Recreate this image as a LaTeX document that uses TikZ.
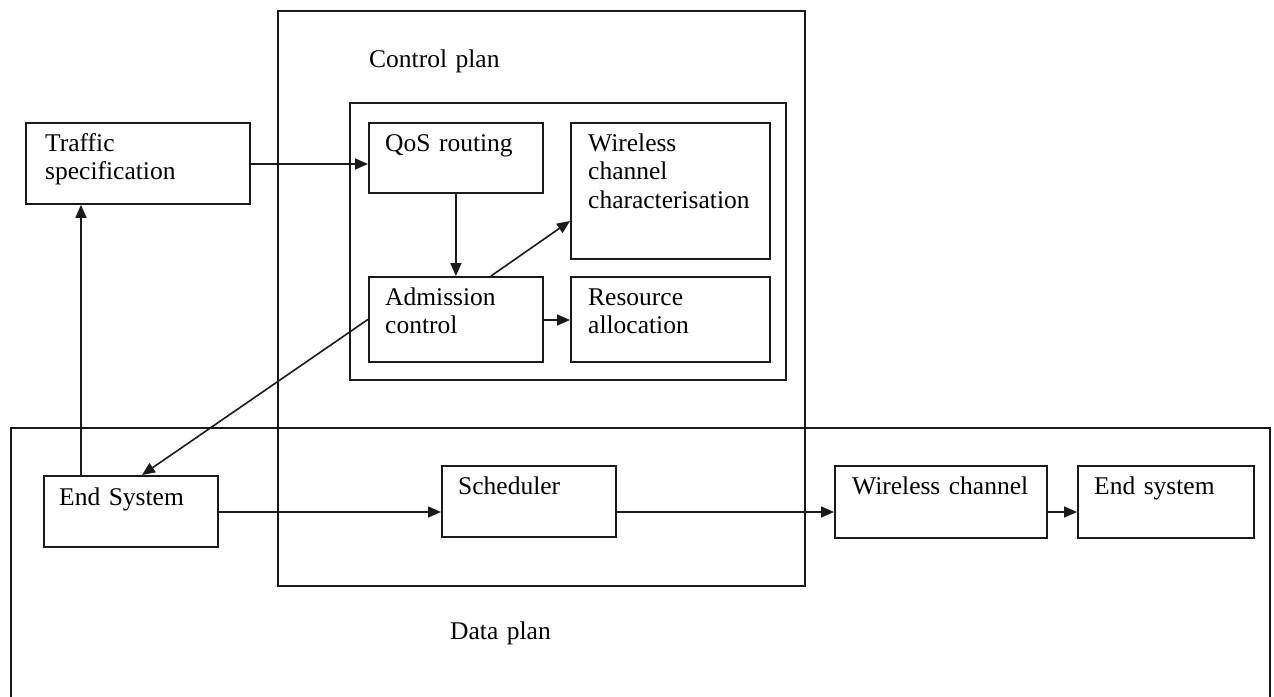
\documentclass[tikz,border=0pt]{standalone}
\usepackage{fontspec}
\setmainfont{Liberation Serif}
\usetikzlibrary{arrows.meta,calc}

\definecolor{ink}{HTML}{1A1A1A}

\tikzset{
  frame/.style={draw=ink, line width=1.8pt, rectangle, inner sep=0pt, anchor=north west},
  lbl/.style={anchor=base west, inner sep=0pt, text width=230pt, align=left,
              font=\fontsize{25.5}{28.5}\selectfont},
  arr/.style={draw=ink, line width=1.6pt, -{Triangle[length=13pt,width=11pt]}},
}

\begin{document}
\begin{tikzpicture}[x=1pt,y=-1pt]
  \path[use as bounding box, clip] (0,0) rectangle (1274,696);

  % planes
  \node[frame, minimum width=1259pt, minimum height=300pt] (data) at (10,427) {};
  \node[frame, minimum width=527pt, minimum height=575pt] (control) at (277,10) {};
  \node[frame, minimum width=436pt, minimum height=277pt] (inner) at (349,102) {};

  % control plane blocks
  \node[frame, minimum width=174pt, minimum height=70pt]  (qos) at (368,122) {};
  \node[frame, minimum width=199pt, minimum height=136pt] (wcc) at (570,122) {};
  \node[frame, minimum width=174pt, minimum height=85pt]  (adm) at (368,276) {};
  \node[frame, minimum width=199pt, minimum height=85pt]  (res) at (570,276) {};
  \node[frame, minimum width=224pt, minimum height=81pt]  (traffic) at (25,122) {};

  % data plane blocks
  \node[frame, minimum width=174pt, minimum height=71pt] (endsys) at (43,475) {};
  \node[frame, minimum width=174pt, minimum height=71pt] (sched) at (441,465) {};
  \node[frame, minimum width=212pt, minimum height=72pt] (wch) at (834,465) {};
  \node[frame, minimum width=176pt, minimum height=72pt] (endsys2) at (1077,465) {};

  % texts
  \node[lbl] (controlT) at (369,67) {Control plan};
  \node[lbl] (dataT) at (450,639) {Data plan};
  \node[lbl] (qosT) at ($(qos.north west)+(17,29)$) {QoS routing};
  \node[lbl] (wccT) at ($(wcc.north west)+(18,29)$) {Wireless\\channel\\characterisation};
  \node[lbl] (admT) at ($(adm.north west)+(17,29)$) {Admission\\control};
  \node[lbl] (resT) at ($(res.north west)+(18,29)$) {Resource\\allocation};
  \node[lbl] (trafficT) at ($(traffic.north west)+(20,29)$) {Traffic\\specification};
  \node[lbl] (endsysT) at ($(endsys.north west)+(16,30)$) {End System};
  \node[lbl] (schedT) at ($(sched.north west)+(17,29)$) {Scheduler};
  \node[lbl] (wchT) at ($(wch.north west)+(18,29)$) {Wireless channel};
  \node[lbl] (endsys2T) at ($(endsys2.north west)+(17,29)$) {End system};

  % helper points on block edges
  \coordinate (trafficOut) at ($(traffic.north east)+(0,42)$);
  \coordinate (admTop) at ($(adm.north west)+(123,0)$);
  \coordinate (admOut) at ($(adm.north east)+(0,44)$);
  \coordinate (wccIn) at ($(wcc.north west)+(0,99)$);
  \coordinate (endsysTop) at ($(endsys.north west)+(99,0)$);
  \coordinate (endsysUp) at ($(endsys.north west)+(38,0)$);
  \coordinate (endsysOut) at ($(endsys.north east)+(0,37)$);
  \coordinate (schedOut) at ($(sched.north east)+(0,47)$);
  \coordinate (wchIn) at ($(wch.north west)+(0,47)$);
  \coordinate (wchOut) at ($(wch.north east)+(0,47)$);
  \coordinate (endsys2In) at ($(endsys2.north west)+(0,47)$);

  % connectors
  \draw[arr] (trafficOut) -- (trafficOut -| qos.west);
  \draw[arr] (qos.south) -- (adm.north);
  \draw[arr] (admTop) -- (wccIn);
  \draw[arr] (admOut) -- (admOut -| res.west);
  \draw[arr] (adm.west) -- (endsysTop);
  \draw[arr] (endsysUp) -- (endsysUp |- traffic.south);
  \draw[arr] (endsysOut) -- (endsysOut -| sched.west);
  \draw[arr] (schedOut) -- (wchIn);
  \draw[arr] (wchOut) -- (endsys2In);
\end{tikzpicture}
\end{document}
